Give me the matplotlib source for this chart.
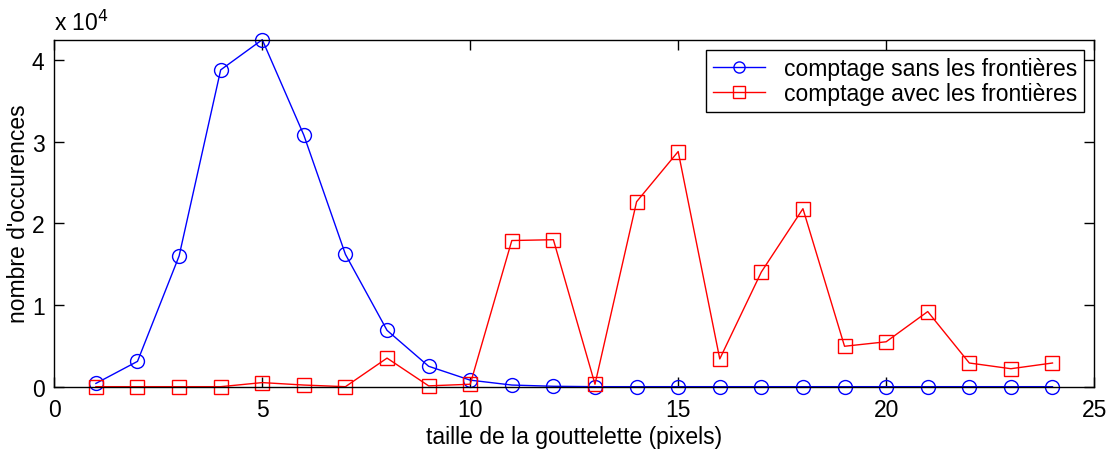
import matplotlib
matplotlib.use("Agg")
import matplotlib.pyplot as plt
from matplotlib.ticker import FuncFormatter

plt.rcParams['font.family'] = ['Liberation Sans', 'DejaVu Sans']

# taille de la gouttelette (pixels)
taille = list(range(1, 25))

# comptage sans les frontieres
sans_frontieres = [400, 3100, 16000, 38800, 42500, 30800, 16200, 6900, 2500, 800,
                   200, 50, 0, 0, 0, 0, 0, 0, 0, 0, 0, 0, 0, 0]

# comptage avec les frontieres
avec_frontieres = [0, 0, 0, 0, 500, 200, 0, 3500, 100, 300,
                   17900, 18000, 300, 22650, 28800, 3400, 14050, 21800, 4950, 5500,
                   9200, 2900, 2200, 2900]

fs = 16.5

fig = plt.figure(figsize=(11.13, 4.52), dpi=100)
ax = fig.add_axes([0.0488, 0.1423, 0.9342, 0.7677])

ax.plot(taille, sans_frontieres, '-o', color='blue', lw=1, ms=10,
        mfc='none', mew=1, clip_on=False, label='comptage sans les frontières')
ax.plot(taille, avec_frontieres, '-s', color='red', lw=1, ms=10,
        mfc='none', mew=1, clip_on=False, label='comptage avec les frontières')

ax.set_xlim(0, 25)
ax.set_ylim(0, max(sans_frontieres))
ax.set_xticks([0, 5, 10, 15, 20, 25])
ax.set_yticks([0, 10000, 20000, 30000, 40000])
ax.yaxis.set_major_formatter(FuncFormatter(lambda v, p: '%d' % round(v / 1e4)))
ax.tick_params(direction='in', top=True, right=True, labelsize=fs, length=7, width=1)
ax.tick_params(axis='x', pad=8)
ax.tick_params(axis='y', pad=7)
for s in ax.spines.values():
    s.set_linewidth(1)

ax.text(0, 1.015, 'x 10$^4$', transform=ax.transAxes, fontsize=fs, ha='left', va='bottom')

ax.set_xlabel("taille de la gouttelette (pixels)", fontsize=fs, labelpad=3)
ax.set_ylabel("nombre d'occurences", fontsize=fs, labelpad=1)

# legende facon matlab
leg = ax.legend(loc='upper right', fontsize=fs, fancybox=False, framealpha=1,
                edgecolor='black', handlelength=2.3, handletextpad=0.8,
                markerscale=0.8, borderaxespad=0.45, labelspacing=0.1,
                borderpad=0.3)
leg.get_frame().set_linewidth(1)

fig.savefig('out.png', dpi=100)
